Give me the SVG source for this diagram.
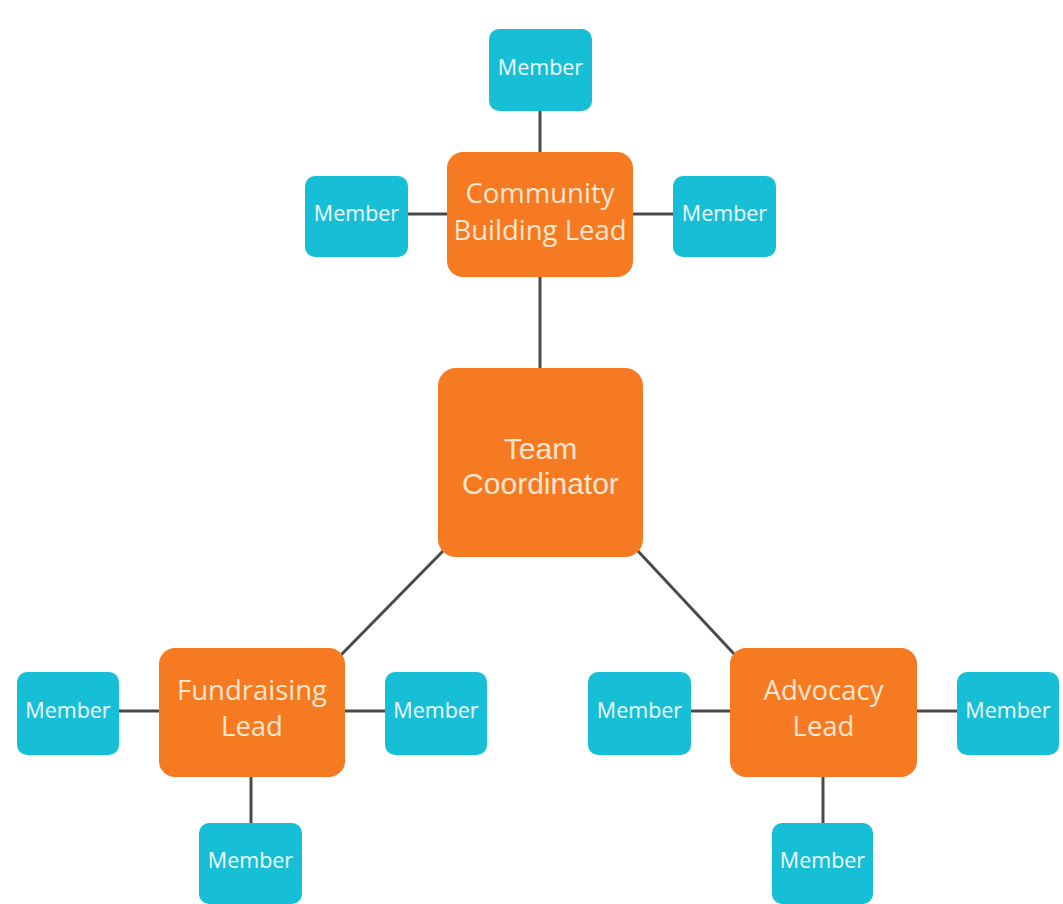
<svg xmlns="http://www.w3.org/2000/svg" width="1063" height="904" viewBox="0 0 1063 904">
<style>
.lead{fill:#F57A21}
.mem{fill:#17BFD6}
.lt{font-family:"Open Sans","Noto Sans",sans-serif;font-size:27.5px;fill:#FDE6CF;text-anchor:middle}
.ct{font-family:"Liberation Sans",Arial,sans-serif;font-size:30px;fill:#FDE6CF;text-anchor:middle}
.mt{font-family:"Open Sans","Noto Sans",sans-serif;font-size:21.5px;fill:#EFFBFD;text-anchor:middle}
.conn line{stroke:#4a4a4a;stroke-width:3}
</style>
<rect width="1063" height="904" fill="#ffffff"/>
<g id="connectors" class="conn">
<line x1="540" y1="111" x2="540" y2="152"/>
<line x1="408" y1="214" x2="447" y2="214"/>
<line x1="633" y1="214" x2="673" y2="214"/>
<line x1="540" y1="277" x2="540" y2="368"/>
<line x1="444" y1="550" x2="340" y2="656"/>
<line x1="637" y1="550" x2="736" y2="656"/>
<line x1="119" y1="711" x2="159" y2="711"/>
<line x1="345" y1="711" x2="385" y2="711"/>
<line x1="251" y1="777" x2="251" y2="823"/>
<line x1="691" y1="711" x2="730" y2="711"/>
<line x1="917" y1="711" x2="957" y2="711"/>
<line x1="823" y1="777" x2="823" y2="823"/>
</g>
<g id="team-coordinator">
<rect class="lead" x="438" y="368" width="205" height="189" rx="18"/>
<text class="ct" x="540.5" y="459">Team</text>
<text class="ct" x="540.5" y="494">Coordinator</text>
</g>
<g id="community-lead">
<rect class="lead" x="447" y="152" width="186" height="125" rx="16"/>
<text class="lt" x="540" y="203">Community</text>
<text class="lt" x="540" y="240">Building Lead</text>
</g>
<g id="fundraising-lead">
<rect class="lead" x="159" y="648" width="186" height="129" rx="16"/>
<text class="lt" x="252" y="700">Fundraising</text>
<text class="lt" x="252" y="736">Lead</text>
</g>
<g id="advocacy-lead">
<rect class="lead" x="730" y="648" width="187" height="129" rx="16"/>
<text class="lt" x="823.5" y="700">Advocacy</text>
<text class="lt" x="823.5" y="736">Lead</text>
</g>
<g id="member-cb-top">
<rect class="mem" x="489" y="29" width="103" height="82" rx="10"/>
<text class="mt" x="540.5" y="75">Member</text>
</g>
<g id="member-cb-left">
<rect class="mem" x="305" y="176" width="103" height="81" rx="10"/>
<text class="mt" x="356.5" y="221">Member</text>
</g>
<g id="member-cb-right">
<rect class="mem" x="673" y="176" width="103" height="81" rx="10"/>
<text class="mt" x="724.5" y="221">Member</text>
</g>
<g id="member-f-left">
<rect class="mem" x="17" y="672" width="102" height="83" rx="10"/>
<text class="mt" x="68" y="718">Member</text>
</g>
<g id="member-f-right">
<rect class="mem" x="385" y="672" width="102" height="83" rx="10"/>
<text class="mt" x="436" y="718">Member</text>
</g>
<g id="member-f-bottom">
<rect class="mem" x="199" y="823" width="103" height="81" rx="10"/>
<text class="mt" x="250.5" y="868">Member</text>
</g>
<g id="member-a-left">
<rect class="mem" x="588" y="672" width="103" height="83" rx="10"/>
<text class="mt" x="639.5" y="718">Member</text>
</g>
<g id="member-a-right">
<rect class="mem" x="957" y="672" width="102" height="83" rx="10"/>
<text class="mt" x="1008" y="718">Member</text>
</g>
<g id="member-a-bottom">
<rect class="mem" x="772" y="823" width="101" height="81" rx="10"/>
<text class="mt" x="822.5" y="868">Member</text>
</g>
</svg>
